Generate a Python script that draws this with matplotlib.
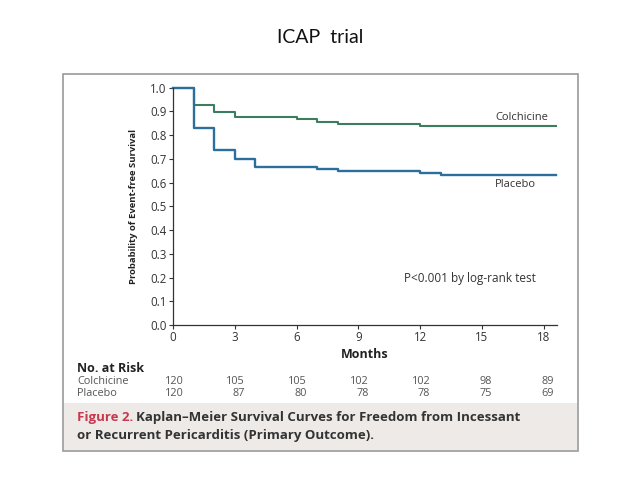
import matplotlib
matplotlib.use('Agg')
import matplotlib.pyplot as plt
from matplotlib.patches import Rectangle
from matplotlib import transforms

# Kaplan-Meier step data
colch_t = [0, 1, 2, 3, 6, 7, 8, 12, 18.6]
colch_s = [1.0, 0.927, 0.899, 0.875, 0.867, 0.855, 0.847, 0.838, 0.838]
placebo_t = [0, 1, 2, 3, 4, 7, 8, 12, 13, 18.6]
placebo_s = [1.0, 0.831, 0.739, 0.701, 0.664, 0.656, 0.649, 0.642, 0.631, 0.631]

# Numbers at risk
risk_months = [0, 3, 6, 9, 12, 15, 18]
colch_risk = [120, 105, 105, 102, 102, 98, 89]
placebo_risk = [120, 87, 80, 78, 78, 75, 69]

x_ticks = [0, 3, 6, 9, 12, 15, 18]
y_ticks = [0.0, 0.1, 0.2, 0.3, 0.4, 0.5, 0.6, 0.7, 0.8, 0.9, 1.0]

green = '#3b7d5e'
blue = '#2d6f9c'
gray = '#555555'
font = 'Open Sans'

fig = plt.figure(figsize=(6.4, 4.8), dpi=100)
fig.text(0.5, 0.921, 'ICAP  trial', ha='center', va='center',
         fontsize=14, family='Lato', color='#111111')

# panel frame and caption shading
fig.patches.append(Rectangle((63 / 640, 1 - 451 / 480), 515 / 640, 377 / 480,
                             transform=fig.transFigure, facecolor='white',
                             edgecolor='#9a9a9a', lw=1.2, zorder=0))
fig.patches.append(Rectangle((64 / 640, 1 - 450 / 480), 513 / 640, 47 / 480,
                             transform=fig.transFigure, facecolor='#eeeae7',
                             edgecolor='none', zorder=0.5))

ax = fig.add_axes([173 / 640, 1 - 325 / 480, 384 / 640, 237.3 / 480])
ax.set_zorder(2)
ax.patch.set_alpha(0)
ax.step(colch_t, colch_s, where='post', color=green, lw=1.5, clip_on=False)
ax.step(placebo_t, placebo_s, where='post', color=blue, lw=1.7, clip_on=False)
ax.set_xlim(0, 18.65)
ax.set_ylim(0, 1.0)
ax.spines['top'].set_visible(False)
ax.spines['right'].set_visible(False)
for s in ['left', 'bottom']:
    ax.spines[s].set_color('#333333')
    ax.spines[s].set_linewidth(0.9)
ax.set_xticks(x_ticks)
ax.set_yticks(y_ticks)
ax.set_yticklabels([f'{v:.1f}' for v in y_ticks])
ax.tick_params(axis='both', labelsize=8.3, colors='#333333', length=3,
               width=0.8, pad=1.5)
for lab in ax.get_xticklabels() + ax.get_yticklabels():
    lab.set_family(font)

ax.set_ylabel('Probability of Event-free Survival', fontsize=6.8, family=font,
              fontweight='bold', color='#222222', labelpad=9)
ax.set_xlabel('Months', fontsize=9, family=font, fontweight='bold',
              color='#222222', labelpad=3)

ax.text(16.95, 0.875, 'Colchicine', ha='center', va='center', fontsize=8,
        family=font, color='#333333')
ax.text(16.65, 0.592, 'Placebo', ha='center', va='center', fontsize=8,
        family=font, color='#333333')
ax.text(14.4, 0.195, 'P<0.001 by log-rank test', ha='center', va='center',
        fontsize=8.5, family=font, color='#333333')

# number at risk table
tr = transforms.blended_transform_factory(ax.transData, fig.transFigure)
row_y = [1 - 381 / 480, 1 - 393.5 / 480]
fig.text(77 / 640, 1 - 369 / 480, 'No. at Risk', ha='left', va='center',
         fontsize=9, family=font, fontweight='bold', color='#222222')
fig.text(77 / 640, row_y[0], 'Colchicine', ha='left', va='center',
         fontsize=7.8, family=font, color=gray)
fig.text(77 / 640, row_y[1], 'Placebo', ha='left', va='center',
         fontsize=7.8, family=font, color=gray)
for m, c, p in zip(risk_months, colch_risk, placebo_risk):
    ax.text(m + 0.5, row_y[0], str(c), transform=tr, ha='right',
            va='center', fontsize=7.8, family=font, color=gray)
    ax.text(m + 0.5, row_y[1], str(p), transform=tr, ha='right',
            va='center', fontsize=7.8, family=font, color=gray)

# caption
fig.text(77 / 640, 1 - 418 / 480, 'Figure 2.', ha='left', va='center',
         fontsize=9.5, family=font, fontweight='bold', color='#c8384e')
fig.text(136 / 640, 1 - 418 / 480,
         'Kaplan\u2013Meier Survival Curves for Freedom from Incessant',
         ha='left', va='center', fontsize=9.5, family=font, fontweight='bold',
         color='#333333')
fig.text(77 / 640, 1 - 435 / 480,
         'or Recurrent Pericarditis (Primary Outcome).',
         ha='left', va='center', fontsize=9.5, family=font, fontweight='bold',
         color='#333333')

fig.savefig('out.png', dpi=100)
